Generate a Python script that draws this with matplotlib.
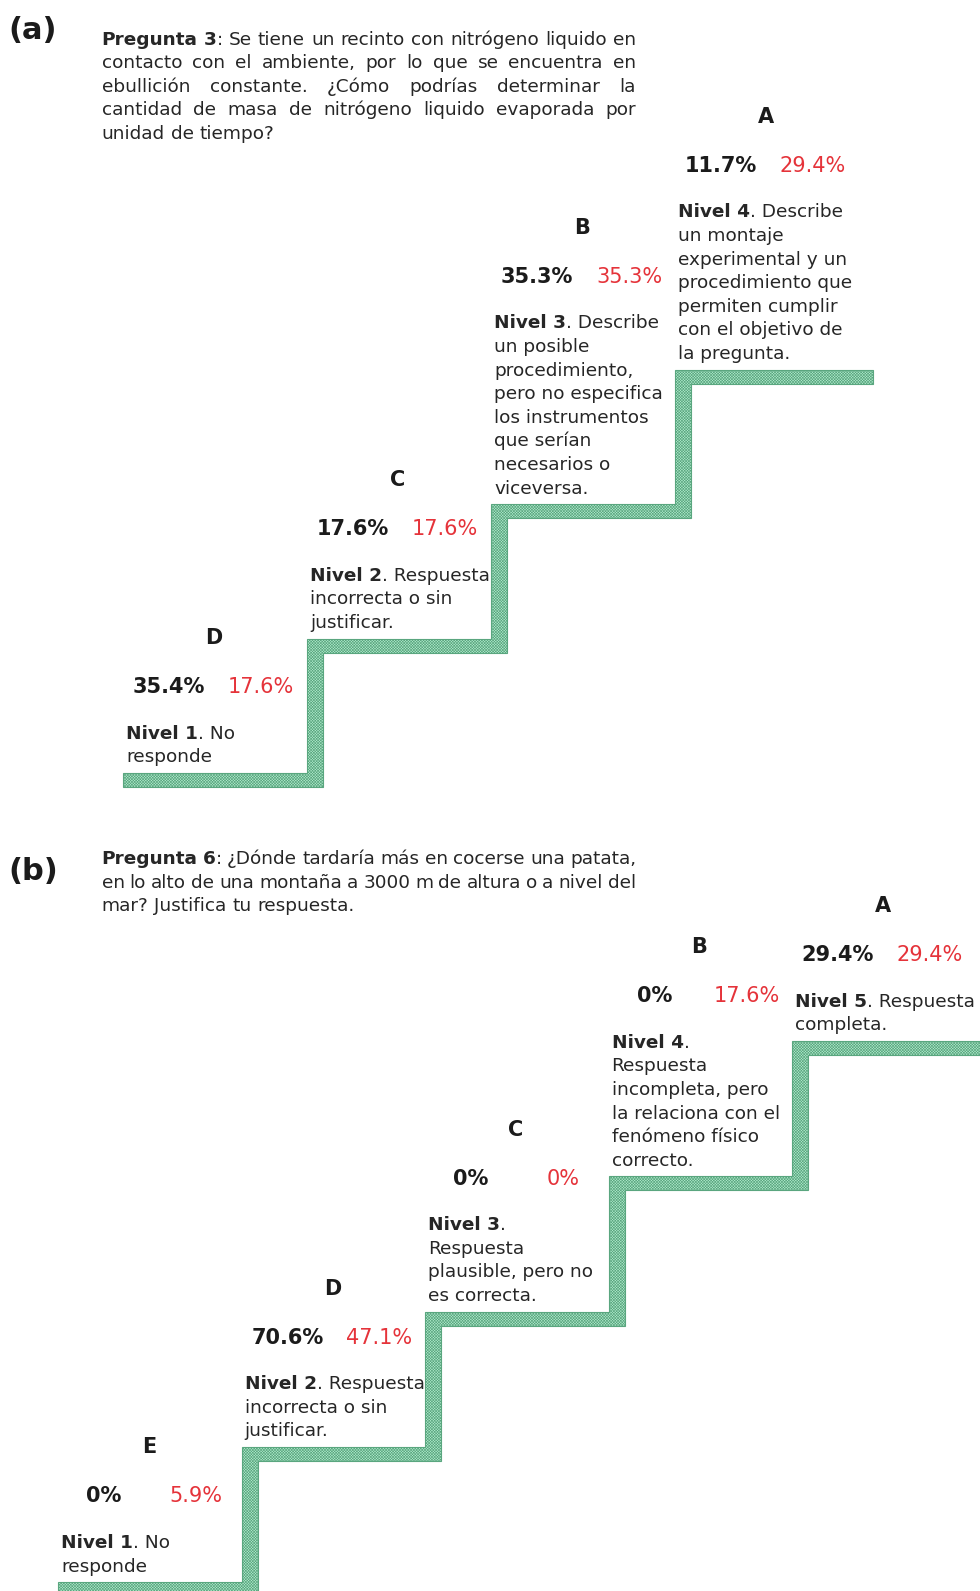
import re
import matplotlib
matplotlib.use("Agg")
import matplotlib.pyplot as plt
from matplotlib.patches import Polygon

# ---------------- data ----------------
question_a = [
    "Pregunta 3: Se tiene un recinto con nitrógeno liquido en",
    "contacto con el ambiente, por lo que se encuentra en",
    "ebullición constante. ¿Cómo podrías determinar la",
    "cantidad de masa de nitrógeno liquido evaporada por",
    "unidad de tiempo?",
]
cats_a = ["D", "C", "B", "A"]
pct_black_a = [35.4, 17.6, 35.3, 11.7]
pct_red_a = [17.6, 17.6, 35.3, 29.4]
levels_a = [
    ["Nivel 1. No", "responde"],
    ["Nivel 2. Respuesta", "incorrecta o sin", "justificar."],
    ["Nivel 3. Describe", "un posible", "procedimiento,", "pero no especifica",
     "los instrumentos", "que serían", "necesarios o", "viceversa."],
    ["Nivel 4. Describe", "un montaje", "experimental y un", "procedimiento que",
     "permiten cumplir", "con el objetivo de", "la pregunta."],
]

question_b = [
    "Pregunta 6: ¿Dónde tardaría más en cocerse una patata,",
    "en lo alto de una montaña a 3000 m de altura o a nivel del",
    "mar? Justifica tu respuesta.",
]
cats_b = ["E", "D", "C", "B", "A"]
pct_black_b = [0, 70.6, 0, 0, 29.4]
pct_red_b = [5.9, 47.1, 0, 17.6, 29.4]
levels_b = [
    ["Nivel 1. No", "responde"],
    ["Nivel 2. Respuesta", "incorrecta o sin", "justificar."],
    ["Nivel 3.", "Respuesta", "plausible, pero no", "es correcta."],
    ["Nivel 4.", "Respuesta", "incompleta, pero", "la relaciona con el",
     "fenómeno físico", "correcto."],
    ["Nivel 5. Respuesta", "completa."],
]

# ---------------- style ----------------
FONT = "DejaVu Sans"
plt.rcParams["font.family"] = [FONT]
plt.rcParams["hatch.color"] = "#55b083"
plt.rcParams["hatch.linewidth"] = 0.45

BLACK = "#1b1b1b"
TXT = "#262626"
RED = "#e5333a"
FILL = "#b2ecce"
EDGE = "#5aa67f"

BODY = 13.3
PCT = 15
LET = 15
LINE = 23.6

W, H = 980, 1591
fig = plt.figure(figsize=(W / 100, H / 100), dpi=100)
ax = fig.add_axes([0, 0, 1, 1])
ax.set_xlim(0, W)
ax.set_ylim(H, 0)
ax.axis("off")
renderer = fig.canvas.get_renderer()


def measure(txt, wt, size):
    t = ax.text(0, 0, txt, fontsize=size, fontweight=wt)
    w = t.get_window_extent(renderer).width
    t.remove()
    return w


def put(x, y, txt, wt, size, color, ha="left"):
    return ax.text(x, y, txt, fontsize=size, fontweight=wt, color=color,
                   ha=ha, va="baseline")


def runs_for(line, pattern):
    m = re.match(pattern, line)
    if m:
        return [(m.group(1), "bold"), (m.group(2), "normal")]
    return [(line, "normal")]


def split_words(runs):
    words = [[]]
    for txt, wt in runs:
        parts = txt.split(" ")
        for k, p in enumerate(parts):
            if k > 0:
                words.append([])
            if p:
                words[-1].append((p, wt))
    return [w for w in words if w]


def draw_runs(x, y, runs, size, color):
    for txt, wt in runs:
        if not txt:
            continue
        put(x, y, txt, wt, size, color)
        x += measure(txt, wt, size)


def justified(lines, x0, x1, y0, size):
    space = measure("a a", "normal", size) - measure("aa", "normal", size)
    for li, line in enumerate(lines):
        y = y0 + li * LINE
        runs = runs_for(line, r"^(Pregunta \d)(.*)$") if li == 0 else [(line, "normal")]
        words = split_words(runs)
        widths = [sum(measure(t, w, size) for t, w in wd) for wd in words]
        if li < len(lines) - 1 and len(words) > 1:
            gap = (x1 - x0 - sum(widths)) / (len(words) - 1)
        else:
            gap = space
        x = x0
        for wd, wdt in zip(words, widths):
            draw_runs(x, y, wd, size, TXT)
            x += wdt + gap


def fmt(v):
    return "0%" if v == 0 else f"{v:.1f}%"


def stair(xs, tops, end, t=14, w=16):
    n = len(xs)
    pts = [(xs[0], tops[0])]
    for i in range(1, n):
        pts += [(xs[i], tops[i - 1]), (xs[i], tops[i])]
    pts += [(end, tops[-1]), (end, tops[-1] + t)]
    for i in range(n - 1, 0, -1):
        pts += [(xs[i] + w, tops[i] + t), (xs[i] + w, tops[i - 1] + t)]
    pts += [(xs[0], tops[0] + t)]
    ax.add_patch(Polygon(pts, closed=True, facecolor=FILL, edgecolor=EDGE,
                         hatch="x" * 12, linewidth=0.8, zorder=1))


def panel(label, label_y, question, q_y, cats, blacks, reds, levels,
          x0, bottom, end, dx=184.0, dy=135.0):
    put(8, label_y + 11, label, "bold", 22, BLACK)
    justified(question, 101.5, 636, q_y + 6, BODY)
    n = len(cats)
    xs = [x0 + i * dx for i in range(n)]
    tops = [bottom - i * dy for i in range(n)]
    stair(xs, tops, end)
    for i in range(n):
        lines = levels[i]
        last_c = tops[i] - 16.5
        first_c = last_c - (len(lines) - 1) * LINE
        for k, ln in enumerate(lines):
            runs = runs_for(ln, r"^(Nivel \d)(.*)$") if k == 0 else [(ln, "normal")]
            draw_runs(xs[i] + 3, first_c + k * LINE + 6, runs, BODY, TXT)
        pct_c = first_c - 47
        put(xs[i] + 46, pct_c + 7.5, fmt(blacks[i]), "bold", PCT, BLACK, ha="center")
        put(xs[i] + 138, pct_c + 7.5, fmt(reds[i]), "normal", PCT, RED, ha="center")
        let_c = pct_c - 49
        put(xs[i] + 91, let_c + 7.5, cats[i], "bold", LET, BLACK, ha="center")


panel("(a)", 28, question_a, 38.6, cats_a, pct_black_a, pct_red_a, levels_a,
      x0=123, bottom=773, end=873, dx=184, dy=134.5)
panel("(b)", 869, question_b, 858, cats_b, pct_black_b, pct_red_b, levels_b,
      x0=58, bottom=1582, end=980, dx=183.5, dy=135.25)

fig.savefig("out.png", dpi=100, facecolor="white")
